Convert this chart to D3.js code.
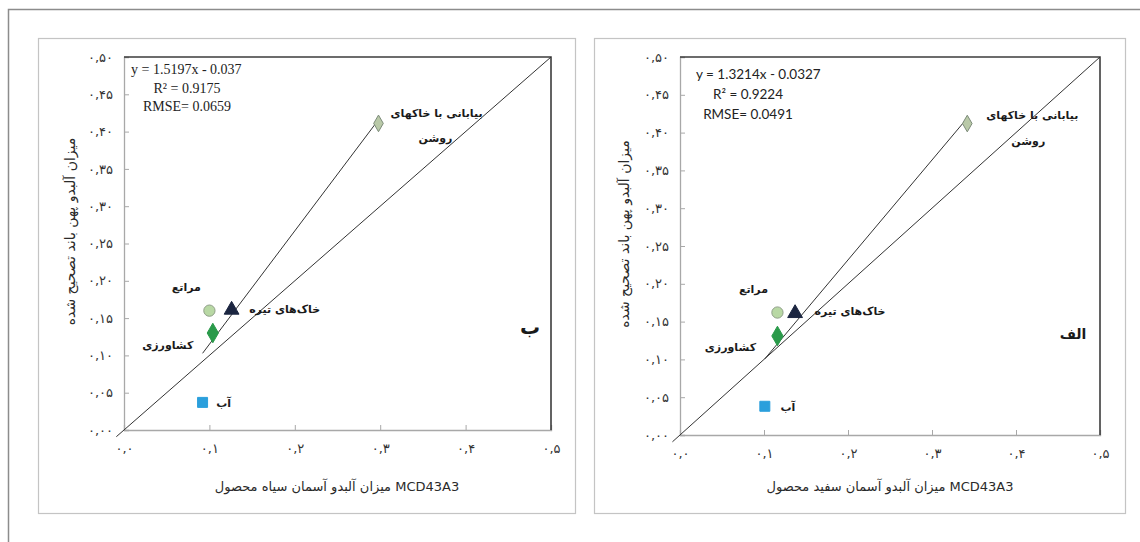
<!DOCTYPE html>
<html><head><meta charset="utf-8">
<script src="https://cdn.jsdelivr.net/npm/d3@7/dist/d3.min.js"></script>
<style>body{margin:0;background:#fff}svg{display:block}</style>
</head><body>
<script>
// ---------- data ----------
const categories = ["آب", "کشاورزی", "مراتع", "خاک‌های تیره", "بیابانی با خاکهای روشن"];
const blackSkyX = [0.092, 0.104, 0.100, 0.126, 0.298];
const blackSkyY = [0.037, 0.130, 0.160, 0.163, 0.411];
const whiteSkyX = [0.101, 0.116, 0.116, 0.137, 0.342];
const whiteSkyY = [0.038, 0.131, 0.162, 0.163, 0.412];
const blackFit = {slope: 1.5197, intercept: -0.037, r2: "0.9175", rmse: "0.0659"};
const whiteFit = {slope: 1.3214, intercept: -0.0327, r2: "0.9224", rmse: "0.0491"};
const oneToOneRange = [-0.009, 0.5];
const xTicks = [0, 0.1, 0.2, 0.3, 0.4, 0.5];
const xTickLabels = ["۰,۰", "۰,۱", "۰,۲", "۰,۳", "۰,۴", "۰,۵"];
const yTicks = [0, 0.05, 0.1, 0.15, 0.2, 0.25, 0.3, 0.35, 0.4, 0.45, 0.5];
const yTickLabels = ["۰,۰۰", "۰,۰۵", "۰,۱۰", "۰,۱۵", "۰,۲۰", "۰,۲۵", "۰,۳۰", "۰,۳۵", "۰,۴۰", "۰,۴۵", "۰,۵۰"];
const yTitle = "میزان آلبدو پهن باند تصحیح شده";
const xTitles = ["میزان آلبدو آسمان سیاه محصول MCD43A3", "میزان آلبدو آسمان سفید محصول MCD43A3"];
const panelLetters = ["ب", "الف"];

// ---------- layout / style ----------
const W = 1140, H = 542;
const svg = d3.select("body").append("svg").attr("width", W).attr("height", H);
const FA = "'DejaVu Sans', 'Noto Sans', sans-serif";

// outer frame
svg.append("path").attr("d", `M8.5,${H} V9.5 H${W}`).attr("fill", "none")
  .attr("stroke", "#8c8c8c").attr("stroke-width", 1.5);

const markerStyles = [
  {shape: d3.symbolSquare, size: 100, fill: "#2b9fdc", stroke: "#2b9fdc"},
  {shape: d3.symbolDiamond, size: 110, fill: "#2a9a4a", stroke: "#2a9a4a"},
  {shape: d3.symbolCircle, size: 100, fill: "#b8d8a4", stroke: "#8f9f88"},
  {shape: d3.symbolTriangle, size: 95, fill: "#1b2540", stroke: "#1b2540"},
  {shape: d3.symbolDiamond, size: 80, fill: "#b9c9a8", stroke: "#7d8c7a"}
];

const panels = [
  {box: [38, 38, 575, 513], x: [124, 551], y: [430, 57], xs: blackSkyX, ys: blackSkyY, fit: blackFit,
   eqFont: "'Liberation Serif', serif", eqSize: 14, eq: [131, 74, 187, 93, 187, 111],
   title: xTitles[0], titleX: 337, yTitleX: 70, letter: panelLetters[0], letterPos: [530, 334],
   labelOff: [[21, 5], [-45, 16], [-23, -20], [53, 5], [58, -6]], line2Off: [57, 19]},
  {box: [594, 38, 1125, 513], x: [680, 1100], y: [435, 57], xs: whiteSkyX, ys: whiteSkyY, fit: whiteFit,
   eqFont: "Lato, 'Open Sans', sans-serif", eqSize: 13.5, eq: [696, 79, 748, 99, 748, 119],
   title: xTitles[1], titleX: 890, yTitleX: 624, letter: panelLetters[1], letterPos: [1073, 339],
   labelOff: [[23, 5], [-47, 15], [-24, -20], [55, 3], [65, -5]], line2Off: [61, 21]}
];

panels.forEach(p => {
  const g = svg.append("g");
  const [bx0, by0, bx1, by1] = p.box;
  g.append("rect").attr("x", bx0 + 0.5).attr("y", by0 + 0.5).attr("width", bx1 - bx0).attr("height", by1 - by0)
    .attr("fill", "#fff").attr("stroke", "#c4c4c4").attr("stroke-width", 1.2);

  const x = d3.scaleLinear().domain([0, 0.5]).range(p.x);
  const y = d3.scaleLinear().domain([0, 0.5]).range(p.y);

  // axes with inward ticks
  const xa = g.append("g").attr("transform", `translate(0,${p.y[0]})`)
    .call(d3.axisBottom(x).tickValues(xTicks).tickSize(-5).tickPadding(14)
      .tickFormat((d, i) => xTickLabels[i]));
  const ya = g.append("g").attr("transform", `translate(${p.x[0]},0)`)
    .call(d3.axisLeft(y).tickValues(yTicks).tickSize(-5).tickPadding(11)
      .tickFormat((d, i) => yTickLabels[i]));
  [xa, ya].forEach(a => {
    a.select(".domain").attr("stroke", "#a8a8a8").attr("stroke-width", 1.3);
    a.selectAll(".tick line").attr("stroke", "#a8a8a8");
    a.selectAll(".tick text").attr("font-family", FA).attr("font-size", 13).attr("fill", "#333");
  });
  // top and right frame
  g.append("path").attr("d", `M${p.x[0]},${p.y[1]} H${p.x[1]} V${p.y[0]}`)
    .attr("fill", "none").attr("stroke", "#3d3d3d").attr("stroke-width", 1.6);

  // 1:1 line
  g.append("line")
    .attr("x1", x(oneToOneRange[0])).attr("y1", y(oneToOneRange[0]))
    .attr("x2", x(oneToOneRange[1])).attr("y2", y(oneToOneRange[1]))
    .attr("stroke", "#333").attr("stroke-width", 1);
  // fitted line across data range
  const xmin = d3.min(p.xs), xmax = d3.max(p.xs);
  const f = v => p.fit.slope * v + p.fit.intercept;
  g.append("line")
    .attr("x1", x(xmin)).attr("y1", y(f(xmin)))
    .attr("x2", x(xmax)).attr("y2", y(f(xmax)))
    .attr("stroke", "#333").attr("stroke-width", 1);

  // markers
  p.xs.forEach((xv, i) => {
    const s = markerStyles[i];
    g.append("path").attr("d", d3.symbol().type(s.shape).size(s.size)())
      .attr("transform", `translate(${x(xv)},${y(p.ys[i]) + (s.shape === d3.symbolTriangle ? 1.5 : 0)})`)
      .attr("fill", s.fill).attr("stroke", s.stroke).attr("stroke-width", 1);
  });

  // point labels
  const lab = (tx, ty, t) => g.append("text").attr("x", tx).attr("y", ty).attr("text-anchor", "middle")
    .attr("font-family", FA).attr("font-weight", "bold").attr("font-size", 11).attr("fill", "#1a1a1a").text(t);
  p.xs.forEach((xv, i) => {
    const px = x(xv), py = y(p.ys[i]);
    const [dx, dy] = p.labelOff[i];
    if (i === 4) {
      const words = categories[i].split(" ");
      lab(px + dx, py + dy, words.slice(0, 3).join(" "));
      lab(px + p.line2Off[0], py + p.line2Off[1], words[3]);
    } else {
      lab(px + dx, py + dy, categories[i]);
    }
  });

  // panel letter
  g.append("text").attr("x", p.letterPos[0]).attr("y", p.letterPos[1]).attr("text-anchor", "middle")
    .attr("font-family", FA).attr("font-weight", "bold").attr("font-size", p.letter.length === 1 ? 20 : 14)
    .attr("fill", "#1a1a1a").text(p.letter);

  // equation
  const e = p.eq;
  g.append("text").attr("x", e[0]).attr("y", e[1]).attr("font-family", p.eqFont).attr("font-size", p.eqSize)
    .attr("fill", "#222").text(`y = ${p.fit.slope}x - ${-p.fit.intercept}`);
  g.append("text").attr("x", e[2]).attr("y", e[3]).attr("text-anchor", "middle").attr("font-family", p.eqFont)
    .attr("font-size", p.eqSize).attr("fill", "#222").text(`R² = ${p.fit.r2}`);
  g.append("text").attr("x", e[4]).attr("y", e[5]).attr("text-anchor", "middle").attr("font-family", p.eqFont)
    .attr("font-size", p.eqSize).attr("fill", "#222").text(`RMSE= ${p.fit.rmse}`);

  // axis titles
  g.append("text").attr("x", p.titleX).attr("y", 491).attr("text-anchor", "middle")
    .attr("font-family", FA).attr("font-size", 13).attr("fill", "#2a2a2a").text(p.title);
  g.append("text").attr("transform", `translate(${p.yTitleX},${(p.y[0] + p.y[1]) / 2 - 12}) rotate(-90)`)
    .attr("text-anchor", "middle").attr("dy", "0.35em")
    .attr("font-family", FA).attr("font-size", 14).attr("fill", "#2a2a2a").text(yTitle);
});
</script>
</body></html>
